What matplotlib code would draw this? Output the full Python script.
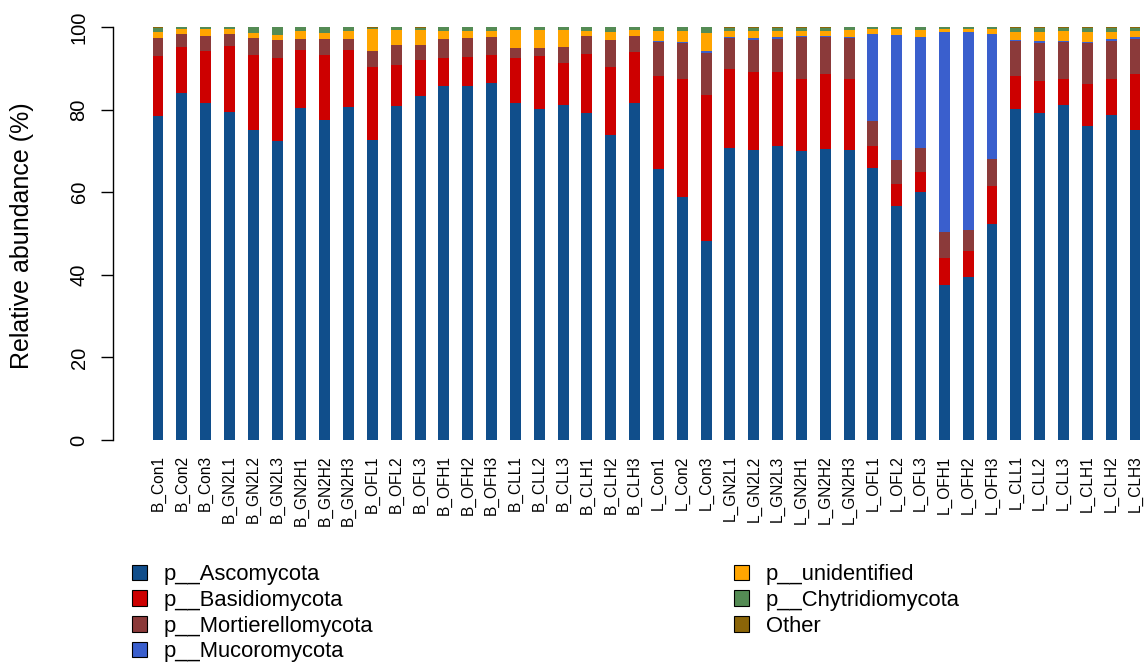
import numpy as np
import matplotlib
matplotlib.use("Agg")
import matplotlib.pyplot as plt
from matplotlib.patches import Patch

plt.rcParams['font.family'] = ['Liberation Sans', 'DejaVu Sans']

# Sample names
samples = ["B_Con1", "B_Con2", "B_Con3", "B_GN2L1", "B_GN2L2", "B_GN2L3",
           "B_GN2H1", "B_GN2H2", "B_GN2H3", "B_OFL1", "B_OFL2", "B_OFL3",
           "B_OFH1", "B_OFH2", "B_OFH3", "B_CLL1", "B_CLL2", "B_CLL3",
           "B_CLH1", "B_CLH2", "B_CLH3",
           "L_Con1", "L_Con2", "L_Con3", "L_GN2L1", "L_GN2L2", "L_GN2L3",
           "L_GN2H1", "L_GN2H2", "L_GN2H3", "L_OFL1", "L_OFL2", "L_OFL3",
           "L_OFH1", "L_OFH2", "L_OFH3", "L_CLL1", "L_CLL2", "L_CLL3",
           "L_CLH1", "L_CLH2", "L_CLH3"]

# Relative abundance (%) per phylum
ascomycota = [78.5, 84.0, 81.7, 79.4, 75.1, 72.5, 80.4, 77.4, 80.7, 72.6, 80.8, 83.2,
              85.6, 85.6, 86.4, 81.6, 80.1, 81.1, 79.2, 73.8, 81.6,
              65.6, 58.8, 48.1, 70.7, 70.2, 71.2, 70.0, 70.5, 70.2, 65.8, 56.6, 60.0,
              37.5, 39.4, 52.3, 80.1, 79.1, 81.1, 76.1, 78.6, 75.0]
basidiomycota = [14.4, 11.2, 12.5, 15.9, 18.1, 20.0, 14.1, 15.9, 13.7, 17.7, 10.1, 8.7,
                 6.9, 7.2, 6.7, 10.8, 12.8, 10.3, 14.3, 16.6, 12.4,
                 22.5, 28.5, 35.5, 19.2, 18.8, 17.9, 17.3, 18.0, 17.1, 5.3, 5.4, 4.8,
                 6.5, 6.3, 9.2, 8.0, 7.8, 6.4, 10.1, 8.8, 13.5]
mortierellomycota = [4.5, 3.2, 3.6, 3.1, 4.2, 4.4, 2.7, 3.7, 2.7, 3.9, 4.7, 3.8,
                     4.6, 4.6, 4.4, 2.4, 2.1, 3.8, 4.3, 6.5, 3.7,
                     8.3, 8.8, 10.2, 7.4, 7.8, 8.1, 10.3, 9.1, 10.1, 6.2, 5.7, 5.9,
                     6.3, 5.1, 6.5, 8.5, 9.3, 8.9, 9.9, 9.3, 8.7]
mucoromycota = [0.0, 0.0, 0.0, 0.0, 0.0, 0.0, 0.0, 0.0, 0.0, 0.0, 0.0, 0.0,
                0.0, 0.0, 0.0, 0.0, 0.0, 0.0, 0.0, 0.0, 0.0,
                0.1, 0.2, 0.4, 0.3, 0.5, 0.4, 0.1, 0.1, 0.1, 20.9, 30.3, 26.8,
                48.5, 48.0, 30.4, 0.2, 0.3, 0.2, 0.3, 0.3, 0.4]
unidentified = [1.5, 1.0, 1.6, 1.0, 1.2, 1.1, 1.8, 1.6, 1.9, 5.2, 3.6, 3.6,
                1.9, 1.6, 1.5, 4.5, 4.3, 4.0, 1.2, 1.8, 1.6,
                2.5, 2.7, 4.4, 1.4, 1.7, 1.4, 1.3, 1.4, 1.8, 1.2, 1.4, 1.8,
                0.8, 0.6, 1.0, 2.0, 2.2, 2.4, 2.5, 1.9, 1.4]
chytridiomycota = [0.9, 0.5, 0.5, 0.5, 1.3, 1.9, 0.9, 1.3, 0.9, 0.4, 0.7, 0.5,
                   0.9, 0.9, 0.9, 0.6, 0.6, 0.7, 0.9, 1.2, 0.6,
                   0.9, 0.9, 1.3, 0.8, 0.8, 0.8, 0.8, 0.7, 0.6, 0.5, 0.5, 0.6,
                   0.3, 0.5, 0.5, 0.9, 1.1, 0.8, 0.9, 0.9, 0.8]
other = [0.2, 0.1, 0.1, 0.1, 0.1, 0.1, 0.1, 0.1, 0.1, 0.2, 0.1, 0.2,
         0.1, 0.1, 0.1, 0.1, 0.1, 0.1, 0.1, 0.1, 0.1,
         0.1, 0.1, 0.1, 0.2, 0.2, 0.2, 0.2, 0.2, 0.1, 0.1, 0.1, 0.1,
         0.1, 0.1, 0.1, 0.3, 0.2, 0.2, 0.2, 0.2, 0.2]

phyla = ["p__Ascomycota", "p__Basidiomycota", "p__Mortierellomycota",
         "p__Mucoromycota", "p__unidentified", "p__Chytridiomycota", "Other"]
colors = ["#104E8B", "#CD0000", "#8B3A3A", "#3A5FCD", "#FFA500", "#548B54", "#8B6508"]
series = [ascomycota, basidiomycota, mortierellomycota, mucoromycota,
          unidentified, chytridiomycota, other]

W, H = 1145, 664
fig = plt.figure(figsize=(W / 100, H / 100), dpi=100)
ax = fig.add_axes([113 / W, 224 / H, 1032 / W, 413 / H])

x = np.arange(len(samples))
bottom = np.zeros(len(samples))
for vals, col in zip(series, colors):
    vals = np.array(vals)
    ax.bar(x, vals, width=0.46, bottom=bottom, color=col, linewidth=0)
    bottom += vals

ax.set_xlim(-1.888, 41.42)
ax.set_ylim(0, 100)
for s in ['top', 'right', 'bottom']:
    ax.spines[s].set_visible(False)
ax.spines['left'].set_linewidth(1.0)

ax.set_yticks([0, 20, 40, 60, 80, 100])
ax.tick_params(axis='y', length=8.6, width=1.0, pad=9, labelsize=14.5)
for lbl in ax.get_yticklabels():
    lbl.set_rotation(90)
    lbl.set_va('center')

ax.set_xticks(x)
ax.set_xticklabels(samples, rotation=90, fontsize=11.2, va='top')
ax.tick_params(axis='x', length=0, pad=11)

fig.text(22 / W, 1 - 236 / H, "Relative abundance (%)", rotation=90,
         ha='center', va='center', fontsize=18)

handles = [Patch(facecolor=c, edgecolor='black', linewidth=0.8) for c in colors]
leg_kw = dict(frameon=False, fontsize=15.8, handlelength=0.7, handleheight=0.7,
              handletextpad=0.75, labelspacing=0.22, borderpad=0, borderaxespad=0)
fig.legend(handles[:4], phyla[:4], loc='upper left',
           bbox_to_anchor=(132 / W, 1 - 564 / H), **leg_kw)
fig.legend(handles[4:], phyla[4:], loc='upper left',
           bbox_to_anchor=(734 / W, 1 - 564 / H), **leg_kw)

plt.savefig("out.png", dpi=100)
